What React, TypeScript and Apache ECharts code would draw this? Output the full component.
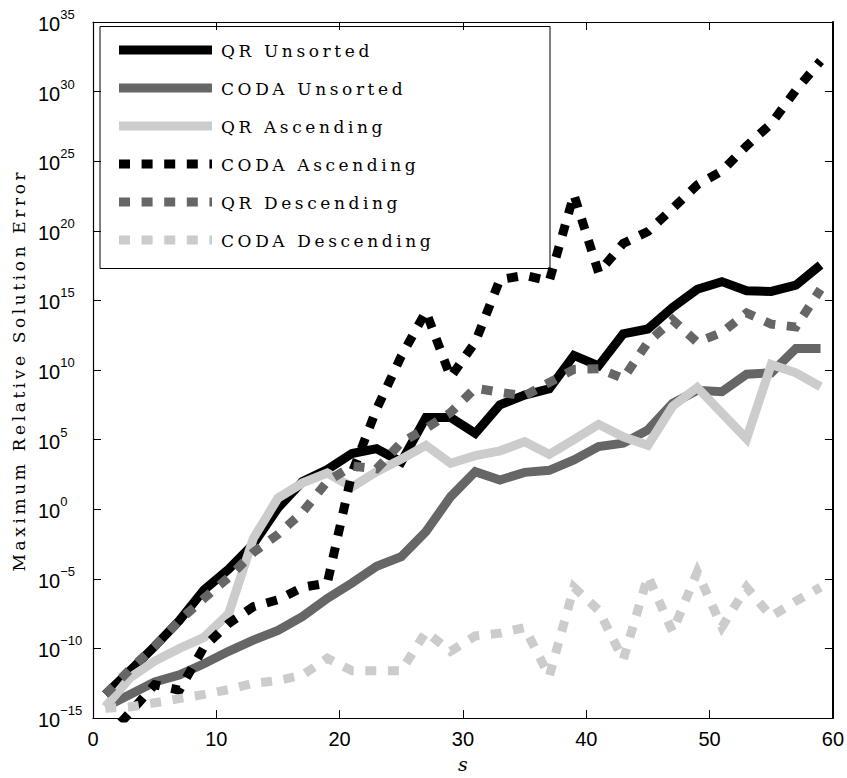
import { useEffect, useRef } from "react";
import * as echarts from "echarts";

// Subspace size s (x positions of every curve)
const sValues = [1, 3, 5, 7, 9, 11, 13, 15, 17, 19, 21, 23, 25, 27, 29, 31, 33, 35, 37, 39, 41, 43, 45, 47, 49, 51, 53, 55, 57, 59];

// log10 of the maximum relative solution error for each method
const qrUnsortedLog = [-13.3, -11.6, -9.85, -8.0, -5.8, -4.3, -2.5, 0.1, 2.0, 2.85, 4.0, 4.35, 3.4, 6.6, 6.6, 5.45, 7.5, 8.2, 8.65, 11.05, 10.3, 12.6, 12.95, 14.5, 15.8, 16.35, 15.7, 15.65, 16.1, 17.55];
const codaUnsortedLog = [-14.2, -13.3, -12.4, -11.9, -11.1, -10.2, -9.4, -8.7, -7.7, -6.4, -5.3, -4.1, -3.4, -1.6, 0.9, 2.7, 2.1, 2.65, 2.8, 3.55, 4.5, 4.75, 5.7, 7.6, 8.55, 8.45, 9.7, 9.8, 11.55, 11.55];
const qrAscendingLog = [-14.2, -12.1, -10.9, -10.0, -9.2, -7.5, -2.1, 0.8, 1.9, 2.6, 1.6, 2.7, 3.6, 4.6, 3.3, 3.85, 4.2, 4.85, 3.95, 5.0, 6.1, 5.2, 4.6, 7.4, 8.75, 6.9, 5.07, 10.4, 9.8, 8.8];
const codaAscendingLog = [-16.5, -14.6, -12.6, -13.0, -9.9, -8.2, -7.0, -6.5, -5.6, -5.3, 2.6, 7.2, 11.0, 14.2, 9.5, 12.0, 16.5, 16.8, 16.4, 22.6, 17.0, 19.1, 19.95, 21.6, 23.3, 24.3, 26.1, 27.7, 30.1, 32.2];
const qrDescendingLog = [-13.3, -11.5, -9.85, -8.0, -6.4, -4.9, -3.1, -1.8, -0.2, 2.0, 3.1, 2.9, 4.8, 5.8, 6.95, 8.7, 8.4, 8.15, 9.1, 10.05, 10.1, 9.4, 12.0, 13.6, 12.0, 12.7, 14.1, 13.3, 13.1, 15.8];
const codaDescendingLog = [-14.3, -14.2, -13.9, -13.6, -13.3, -12.95, -12.5, -12.3, -11.9, -10.7, -11.6, -11.6, -11.6, -8.8, -10.2, -9.1, -8.9, -8.5, -12.0, -5.6, -7.25, -10.8, -4.8, -8.8, -4.5, -8.45, -5.6, -7.7, -6.6, -5.6];

const seriesNames = ["QR Unsorted", "CODA Unsorted", "QR Ascending", "CODA Ascending", "QR Descending", "CODA Descending"];
const seriesLogs = [qrUnsortedLog, codaUnsortedLog, qrAscendingLog, codaAscendingLog, qrDescendingLog, codaDescendingLog];
const seriesColors = ["#000000", "#666666", "#cccccc", "#000000", "#666666", "#cccccc"];
const seriesDotted = [false, false, false, true, true, true];

// Axis ranges and tick labels
const xMin = 0;
const xMax = 60;
const xStep = 10;
const yMin = 1e-15;
const yMax = 1e35;
const yDecadeStep = 5;
const yAxisTitle = "Maximum Relative Solution Error";
const xAxisTitle = "s";

const LINE_WIDTH = 9;
const DOT_DASH = [11, 11.6];
const SANS = '"Liberation Sans", Arial, Helvetica, sans-serif';
const SERIF = '"DejaVu Serif", "Liberation Serif", serif';

function powerLabel(v: number): string {
  const e = Math.round(Math.log10(v));
  const exp = e < 0 ? "\u2212" + Math.abs(e) : String(e);
  return `{b|10}{s|${exp}}`;
}

function buildOption(): echarts.EChartsCoreOption {
  const series = seriesNames.map((name, i) => ({
    name,
    type: "line",
    xAxisIndex: 0,
    yAxisIndex: 0,
    data: sValues.map((s, k) => [s, Math.pow(10, seriesLogs[i][k])]),
    symbol: "none",
    showSymbol: false,
    clip: true,
    silent: true,
    z: 2 + i,
    lineStyle: {
      color: seriesColors[i],
      width: LINE_WIDTH,
      type: seriesDotted[i] ? DOT_DASH : "solid",
      cap: "butt",
      join: "miter",
    },
  }));

  const legendLeft = 100;
  const legendTop = 26.5;
  const rowGap = 38;
  const legendChildren: any[] = [
    {
      type: "rect",
      shape: { x: legendLeft, y: legendTop, width: 450, height: 242 },
      style: { fill: "#ffffff", stroke: "#000000", lineWidth: 1 },
    },
  ];
  seriesNames.forEach((name, i) => {
    const y = 50 + rowGap * i;
    legendChildren.push({
      type: "line",
      shape: { x1: 119, y1: y, x2: 212, y2: y },
      style: {
        stroke: seriesColors[i],
        lineWidth: LINE_WIDTH,
        lineDash: seriesDotted[i] ? DOT_DASH : null,
        lineCap: "butt",
      },
    });
    legendChildren.push({
      type: "text",
      x: 221,
      y: y + 1,
      style: {
        text: name,
        fill: "#000000",
        fontFamily: SERIF,
        fontSize: 17,
        align: "left",
        verticalAlign: "middle",
      },
    });
  });

  const tickStyle = { inside: true, length: 8, lineStyle: { color: "#000", width: 1 } };
  const lineStyle = { show: true, onZero: false, lineStyle: { color: "#000", width: 1.2 } };

  return {
    animation: false,
    backgroundColor: "#ffffff",
    grid: { left: 93, top: 22, width: 740, height: 709, containLabel: false },
    xAxis: [
      {
        type: "value",
        min: xMin,
        max: xMax,
        interval: xStep,
        position: "bottom",
        axisLine: lineStyle,
        axisTick: tickStyle,
        splitLine: { show: false },
        axisLabel: { color: "#000", fontFamily: SANS, fontSize: 20, margin: 11 },
        name: xAxisTitle,
        nameLocation: "middle",
        nameGap: 29,
        nameTextStyle: { color: "#000", fontFamily: SERIF, fontStyle: "italic", fontSize: 19 },
      },
      {
        type: "value",
        min: xMin,
        max: xMax,
        interval: xStep,
        position: "top",
        axisLine: lineStyle,
        axisTick: tickStyle,
        splitLine: { show: false },
        axisLabel: { show: false },
      },
    ],
    yAxis: [
      {
        type: "log",
        logBase: 10,
        min: yMin,
        max: yMax,
        interval: yDecadeStep,
        position: "left",
        axisLine: lineStyle,
        axisTick: tickStyle,
        splitLine: { show: false },
        minorTick: { show: false },
        axisLabel: {
          align: "left",
          margin: 55,
          formatter: powerLabel,
          rich: {
            b: { fontFamily: SANS, fontSize: 20, color: "#000", lineHeight: 28, padding: [4, 0, 0, 0] },
            s: { fontFamily: SANS, fontSize: 13, color: "#000", lineHeight: 13, verticalAlign: "top" },
          },
        },
        name: yAxisTitle,
        nameLocation: "middle",
        nameRotate: 90,
        nameGap: 63,
        nameTextStyle: { color: "#000", fontFamily: SERIF, fontSize: 17 },
      },
      {
        type: "log",
        logBase: 10,
        min: yMin,
        max: yMax,
        interval: yDecadeStep,
        position: "right",
        axisLine: { show: true, onZero: false, lineStyle: { color: "#000", width: 2 } },
        axisTick: tickStyle,
        splitLine: { show: false },
        axisLabel: { show: false },
      },
    ],
    series,
    graphic: [{ type: "group", z: 100, children: legendChildren }],
  };
}

// Spaced-out serif lettering for the legend entries and the vertical axis title
const letterSpacing: Record<string, string> = { [yAxisTitle]: "3.6px" };
seriesNames.forEach((n) => (letterSpacing[n] = "3.6px"));

export default function App() {
  const ref = useRef<HTMLDivElement>(null);
  useEffect(() => {
    if (!ref.current) return;
    const chart = echarts.init(ref.current, null, { renderer: "svg" });
    chart.setOption(buildOption());
    ref.current.querySelectorAll("text").forEach((t) => {
      const spacing = letterSpacing[t.textContent || ""];
      if (spacing) (t as SVGTextElement).style.letterSpacing = spacing;
    });
    return () => chart.dispose();
  }, []);
  return (
    <div
      ref={ref}
      style={{ position: "absolute", left: 0, top: 0, width: 847, height: 778, background: "#ffffff" }}
    />
  );
}
